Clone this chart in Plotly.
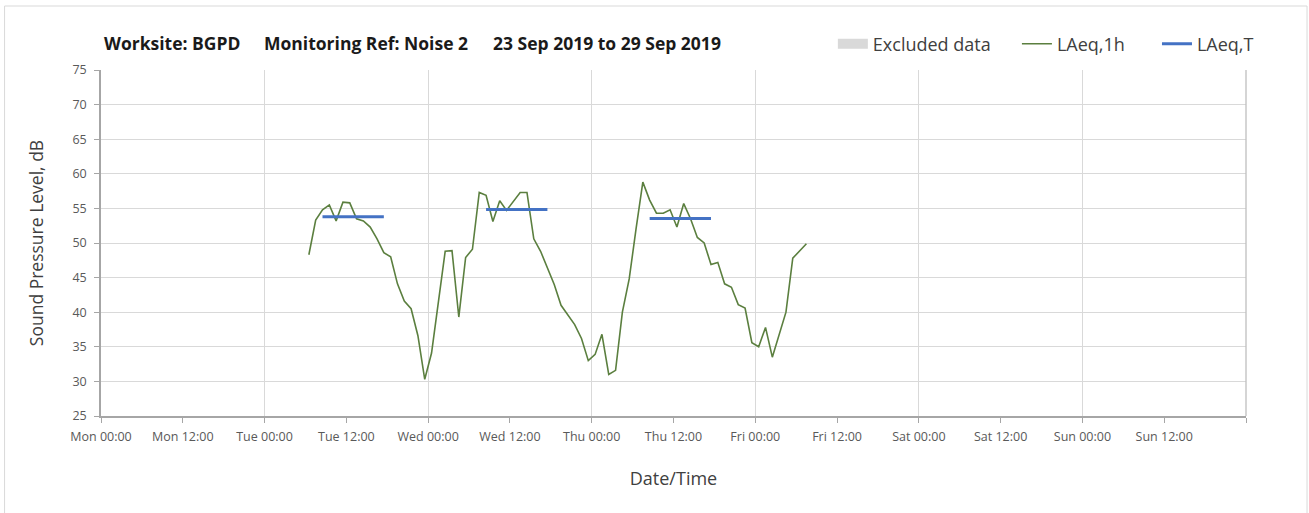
import plotly.graph_objects as go
import pandas as pd

# ---------------- data ----------------
first_hour = "2019-09-24 06:30"
laeq_1h = [48.3, 53.3, 54.8, 55.5, 53.2, 55.9, 55.8, 53.5, 53.2, 52.3,
           50.6, 48.6, 48.0, 44.1, 41.6, 40.5, 36.6, 30.3, 34.1, 41.5,
           48.8, 48.9, 39.3, 47.9, 49.1, 57.3, 56.9, 53.1, 56.1, 54.7,
           56.0, 57.3, 57.3, 50.6, 48.8, 46.5, 44.0, 41.0, 39.6, 38.2,
           36.2, 33.0, 33.9, 36.8, 31.0, 31.6, 40.0, 44.8, 52.0, 58.8,
           56.2, 54.3, 54.3, 54.8, 52.3, 55.7, 53.5, 50.8, 50.0, 46.9,
           47.2, 44.1, 43.6, 41.1, 40.6, 35.6, 35.0, 37.8, 33.5, 36.6,
           40.0, 47.8, 48.8, 49.9]
period_start = ["2019-09-24 08:30", "2019-09-25 08:30", "2019-09-26 08:30"]
period_end = ["2019-09-24 17:30", "2019-09-25 17:30", "2019-09-26 17:30"]
laeq_t = [53.8, 54.85, 53.55]

x_range = ["2019-09-23 00:00", "2019-09-30 00:00"]
y_ticks = [25, 30, 35, 40, 45, 50, 55, 60, 65, 70, 75]
x_tick_times = pd.date_range(x_range[0], x_range[1], freq="12h")
x_tick_text = [t.strftime("%a %H:%M") for t in x_tick_times[:-1]] + [""]

times = pd.date_range(first_hour, periods=len(laeq_1h), freq="h")

# LAeq,T segments separated by gaps
tx, ty = [], []
for s, e, v in zip(period_start, period_end, laeq_t):
    tx += [s, e, None]
    ty += [v, v, None]

# ---------------- layout helpers ----------------
W, H = 1309, 513
L, R, T, B = 101.4, 1246, 70, 416
def px(x):
    return (x - L) / (R - L)
def py(y):
    return (B - y) / (B - T)

FONT = "Open Sans"
TXT = "#404040"

fig = go.Figure()

# Excluded data (none in this period) - legend entry only
fig.add_trace(go.Scatter(
    x=[None], y=[None], name="Excluded data", mode="lines",
    line=dict(width=10, color="#D9D9D9"),
    legend="legend", showlegend=True, hoverinfo="skip"))

fig.add_trace(go.Scatter(
    x=times, y=laeq_1h, name="LAeq,1h", mode="lines",
    line=dict(color="#5B7F3F", width=1.6), legend="legend2"))

fig.add_trace(go.Scatter(
    x=tx, y=ty, name="LAeq,T", mode="lines",
    line=dict(color="#4472C4", width=3), legend="legend3"))

# invisible trace to carry the daily grid axis
fig.add_trace(go.Scatter(x=x_range, y=[None, None], xaxis="x2",
                         showlegend=False, hoverinfo="skip"))

legend_common = dict(orientation="h", yanchor="middle", xanchor="left",
                     font=dict(family=FONT, size=18, color=TXT),
                     bgcolor="rgba(0,0,0,0)", borderwidth=0,
                     itemwidth=30)

fig.update_layout(
    width=W, height=H,
    margin=dict(l=L, r=W - R, t=T, b=H - B, autoexpand=False),
    paper_bgcolor="white", plot_bgcolor="white",
    showlegend=True,
    legend=dict(x=px(833), y=py(44), **legend_common),
    legend2=dict(x=px(1017), y=py(44), **legend_common),
    legend3=dict(x=px(1157), y=py(44), **legend_common),
    xaxis=dict(
        type="date", range=x_range, tickvals=x_tick_times, ticktext=x_tick_text,
        showgrid=False, ticks="outside", ticklen=5, tickcolor="#A6A6A6",
        showline=True, linecolor="#A6A6A6", linewidth=1.5,
        ticklabelstandoff=3,
        tickfont=dict(family=FONT, size=12.5, color="#595959"),
        title=dict(text="Date/Time", font=dict(family=FONT, size=18, color=TXT),
                   standoff=29),
        automargin=False, zeroline=False),
    xaxis2=dict(
        type="date", range=x_range, overlaying="x", matches="x",
        dtick=24 * 3600 * 1000, tick0="2019-09-23 00:00",
        showgrid=True, gridcolor="#D9D9D9", gridwidth=1.3,
        showticklabels=False, ticks="", showline=False, zeroline=False),
    yaxis=dict(
        range=[25, 75], tickvals=y_ticks,
        showgrid=True, gridcolor="#D9D9D9", gridwidth=1.3,
        ticks="outside", ticklen=5, tickcolor="#A6A6A6",
        showline=True, linecolor="#A6A6A6", linewidth=1.5,
        ticklabelstandoff=5,
        tickfont=dict(family=FONT, size=12.5, color="#595959"),
        title=dict(text="Sound Pressure Level, dB",
                   font=dict(family=FONT, size=17.5, color=TXT), standoff=24),
        automargin=False, zeroline=False),
    annotations=[
        dict(text="<b>Worksite: BGPD</b>", xref="paper", yref="paper",
             x=px(102), y=py(43), xanchor="left", yanchor="middle",
             showarrow=False, font=dict(family=FONT, size=17.5, color="#1a1a1a")),
        dict(text="<b>Monitoring Ref: Noise 2</b>", xref="paper", yref="paper",
             x=px(262), y=py(43), xanchor="left", yanchor="middle",
             showarrow=False, font=dict(family=FONT, size=17.5, color="#1a1a1a")),
        dict(text="<b>23 Sep 2019 to 29 Sep 2019</b>", xref="paper", yref="paper",
             x=px(491), y=py(43), xanchor="left", yanchor="middle",
             showarrow=False, font=dict(family=FONT, size=17.5, color="#1a1a1a")),
    ],
    shapes=[
        dict(type="rect", xref="paper", yref="paper",
             x0=px(5), x1=px(1307), y0=py(516), y1=py(6),
             line=dict(color="#D9D9D9", width=1), fillcolor="rgba(0,0,0,0)",
             layer="below"),
        dict(type="line", xref="paper", yref="paper",
             x0=1, x1=1, y0=0, y1=1,
             line=dict(color="#BFBFBF", width=1.3)),
    ],
)

fig.write_html("out.html", config={"displayModeBar": False},
               post_script="document.body.style.margin='0';document.body.style.padding='0';")
